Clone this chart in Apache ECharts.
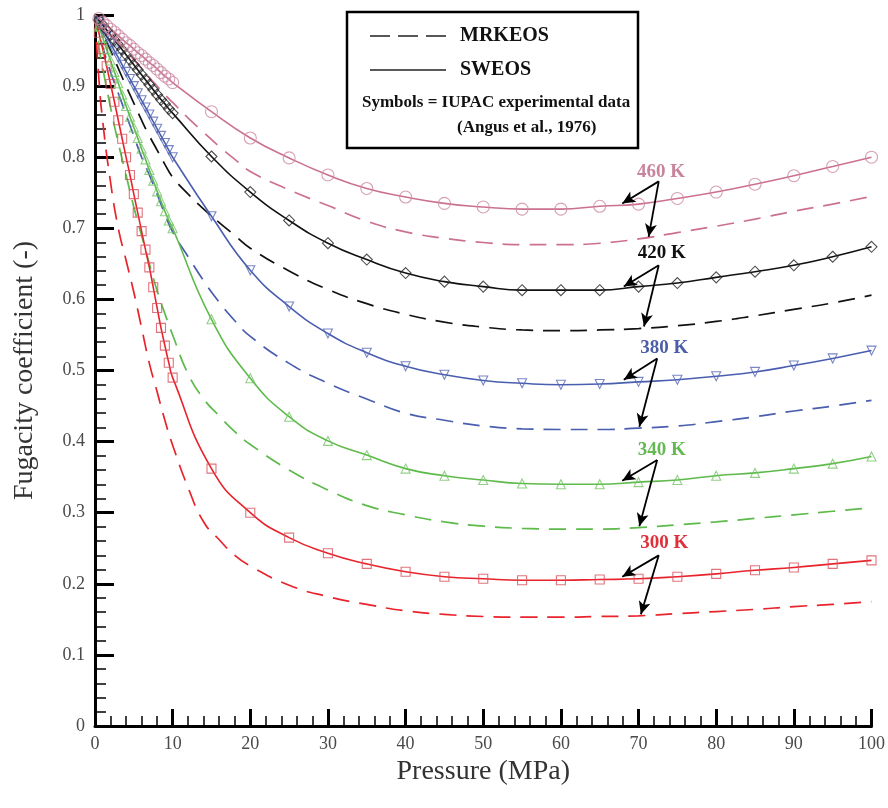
<!DOCTYPE html>
<html><head><meta charset="utf-8">
<script src="https://cdn.jsdelivr.net/npm/echarts/dist/echarts.min.js"></script>
<style>html,body{margin:0;padding:0;background:#fff}#c{width:888px;height:808px}</style>
</head><body><div id="c"></div>
<script>
// ---- data ----
const TEMPS = ['300 K', '340 K', '380 K', '420 K', '460 K'];
// SWEOS curve / IUPAC points (pressure MPa)
const P_SW = [0, 0.5,1,1.5,2,2.5,3,3.5,4,4.5,5,5.5,6,6.5,7,7.5,8,8.5,9,9.5,10, 15,20,25,30,35,40,45,50,55,60,65,70,75,80,85,90,95,100];
const sw300 = [1, 0.975,0.952,0.928,0.903,0.878,0.852,0.826,0.800,0.775,0.748,0.722,0.696,0.670,0.645,0.617,0.588,0.560,0.535,0.511,0.490, 0.362,0.300,0.265,0.243,0.228,0.217,0.210,0.207,0.205,0.205,0.206,0.207,0.210,0.214,0.219,0.223,0.228,0.233];
const sw340 = [1, 0.984,0.968,0.952,0.936,0.920,0.904,0.888,0.872,0.857,0.842,0.827,0.812,0.797,0.782,0.767,0.752,0.738,0.724,0.711,0.700, 0.572,0.489,0.435,0.401,0.381,0.362,0.352,0.346,0.341,0.340,0.340,0.343,0.346,0.352,0.356,0.362,0.369,0.379];
const sw380 = [1, 0.990,0.980,0.970,0.960,0.950,0.940,0.930,0.920,0.910,0.900,0.890,0.880,0.870,0.860,0.850,0.840,0.830,0.820,0.810,0.800, 0.717,0.641,0.590,0.552,0.525,0.506,0.494,0.486,0.482,0.480,0.481,0.484,0.487,0.492,0.498,0.507,0.517,0.528];
const sw420 = [1, 0.993,0.986,0.979,0.972,0.965,0.958,0.951,0.944,0.937,0.930,0.923,0.916,0.909,0.902,0.895,0.888,0.881,0.875,0.868,0.862, 0.801,0.751,0.711,0.679,0.656,0.637,0.625,0.618,0.613,0.613,0.613,0.618,0.623,0.631,0.639,0.648,0.660,0.674];
const sw460 = [1, 0.995,0.990,0.985,0.980,0.976,0.971,0.966,0.961,0.957,0.952,0.947,0.943,0.938,0.933,0.929,0.924,0.919,0.914,0.910,0.905, 0.864,0.827,0.799,0.775,0.756,0.744,0.735,0.730,0.727,0.727,0.731,0.734,0.742,0.751,0.762,0.774,0.787,0.800];
// MRKEOS curves
const P_MRK = [0,0.5,1,2,3,4,5,6,7,8,9,10,12,14,16,18,20,25,30,35,40,45,50,55,60,65,70,75,80,85,90,95,100];
const mrk300 = [1,0.91,0.85,0.765,0.70,0.655,0.61,0.56,0.51,0.47,0.43,0.395,0.335,0.287,0.262,0.240,0.225,0.198,0.182,0.171,0.162,0.157,0.154,0.153,0.153,0.154,0.155,0.158,0.161,0.164,0.168,0.171,0.175];
const mrk340 = [1,0.955,0.925,0.87,0.82,0.775,0.73,0.69,0.65,0.612,0.58,0.55,0.495,0.46,0.436,0.414,0.396,0.36,0.332,0.31,0.297,0.287,0.281,0.278,0.277,0.277,0.279,0.283,0.287,0.292,0.297,0.302,0.307];
const mrk380 = [1,0.975,0.955,0.92,0.89,0.86,0.83,0.80,0.775,0.748,0.72,0.695,0.66,0.626,0.596,0.570,0.548,0.51,0.482,0.46,0.44,0.43,0.422,0.418,0.417,0.417,0.419,0.422,0.428,0.435,0.443,0.45,0.458];
const mrk420 = [1,0.99,0.975,0.95,0.925,0.90,0.876,0.852,0.83,0.81,0.79,0.772,0.748,0.727,0.708,0.69,0.672,0.64,0.614,0.594,0.579,0.568,0.561,0.557,0.556,0.557,0.559,0.563,0.569,0.577,0.586,0.595,0.606];
const mrk460 = [1,0.995,0.988,0.975,0.962,0.95,0.937,0.925,0.912,0.9,0.888,0.877,0.855,0.835,0.815,0.797,0.78,0.754,0.732,0.71,0.695,0.686,0.68,0.677,0.677,0.679,0.685,0.694,0.703,0.713,0.724,0.734,0.745];
// annotation anchor points (label, arrow apex, tip on SWEOS, tip on MRKEOS) in data units
const ANNOT = {
  '460 K': {label:[72.9,0.779], apex:[72.6,0.766], solid:[67.9,0.735], dashed:[71.3,0.688]},
  '420 K': {label:[73.0,0.665], apex:[72.6,0.648], solid:[68.1,0.618], dashed:[70.7,0.562]},
  '380 K': {label:[73.3,0.532], apex:[72.4,0.517], solid:[68.1,0.487], dashed:[70.1,0.421]},
  '340 K': {label:[73.0,0.388], apex:[72.4,0.374], solid:[67.9,0.345], dashed:[70.1,0.281]},
  '300 K': {label:[73.3,0.257], apex:[72.6,0.240], solid:[67.9,0.210], dashed:[70.3,0.157]}
};
const X_TICKS = [0,10,20,30,40,50,60,70,80,90,100];
const Y_TICKS = [0,0.1,0.2,0.3,0.4,0.5,0.6,0.7,0.8,0.9,1];

// ---- styles ----
const SERIF = '"Liberation Serif","DejaVu Serif",Times,serif';
const STY = {
  '300 K': {line:'#e8232b', sym:'#d8505c', text:'#e0303a', symbol:'rect', size:9, rot:0},
  '340 K': {line:'#5dba4b', sym:'#74c466', text:'#66b855', symbol:'triangle', size:9, rot:0},
  '380 K': {line:'#4a5eb0', sym:'#5868b4', text:'#4d5ea8', symbol:'triangle', size:9, rot:180},
  '420 K': {line:'#111111', sym:'#222222', text:'#111111', symbol:'diamond', size:11, rot:0},
  '460 K': {line:'#cc7090', sym:'#cc8aa4', text:'#c8849c', symbol:'circle', size:12, rot:0}
};
const SW = {'300 K':sw300,'340 K':sw340,'380 K':sw380,'420 K':sw420,'460 K':sw460};
const MRK = {'300 K':mrk300,'340 K':mrk340,'380 K':mrk380,'420 K':mrk420,'460 K':mrk460};
const zip = (xs, ys) => xs.map((x,i)=>[x, ys[i]]);

const series = [];
TEMPS.forEach(T => {
  const s = STY[T], a = ANNOT[T];
  series.push({
    name: T + ' MRKEOS', type:'line', data: zip(P_MRK, MRK[T]), showSymbol:false,
    smooth:0.5, z:2,
    lineStyle:{color:s.line, width:1.7, type:[17,10]}
  });
  series.push({
    name: T + ' SWEOS', type:'line', data: zip(P_SW, SW[T]), showSymbol:false,
    smooth:0.5, z:3,
    lineStyle:{color:s.line, width:1.6},
    markLine: {
      silent:true, symbol:['none','arrow'], symbolSize:[9,13], precision:3,
      label:{show:false}, lineStyle:{color:'#000', width:1.8, type:'solid'},
      data:[[{coord:a.apex},{coord:a.solid}],[{coord:a.apex},{coord:a.dashed}]]
    },
    markPoint: {
      silent:true, symbol:'circle', symbolSize:0,
      label:{show:true, position:'inside', formatter:T, color:s.text, fontFamily:SERIF, fontWeight:'bold', fontSize:19},
      data:[{coord:a.label}]
    }
  });
  series.push({
    name: T + ' IUPAC', type:'scatter', data: zip(P_SW.slice(1), SW[T].slice(1)),
    symbol:s.symbol, symbolSize:s.size, symbolRotate:s.rot, z:4,
    itemStyle:{color:'rgba(255,255,255,0)', borderColor:s.sym, borderWidth:1.1}
  });
});

const LB = {x:347, y:12, w:291, h:136};
const option = {
  animation:false,
  backgroundColor:'#fff',
  grid:{left:95, right:15, top:15, bottom:82, containLabel:false},
  xAxis:{
    type:'value', min:X_TICKS[0], max:X_TICKS[X_TICKS.length-1], interval:X_TICKS[1]-X_TICKS[0],
    axisLine:{show:true, onZero:false, lineStyle:{color:'#000', width:3}},
    axisTick:{show:true, inside:true, length:17, lineStyle:{color:'#000', width:3}},
    minorTick:{show:true, splitNumber:5, length:10, lineStyle:{color:'#000', width:1.5}},
    splitLine:{show:false},
    axisLabel:{fontFamily:SERIF, fontSize:18, color:'#4a4a4a', margin:9},
    name:'Pressure (MPa)', nameLocation:'middle', nameGap:26,
    nameTextStyle:{fontFamily:SERIF, fontSize:28, color:'#333'}
  },
  yAxis:{
    type:'value', min:Y_TICKS[0], max:Y_TICKS[Y_TICKS.length-1], interval:Y_TICKS[1]-Y_TICKS[0],
    axisLine:{show:true, onZero:false, lineStyle:{color:'#000', width:3}},
    axisTick:{show:true, inside:true, length:19, lineStyle:{color:'#000', width:3}},
    minorTick:{show:true, splitNumber:5, length:11, lineStyle:{color:'#000', width:1.5}},
    splitLine:{show:false},
    axisLabel:{fontFamily:SERIF, fontSize:18, color:'#4a4a4a', margin:10},
    name:'Fugacity coefficient (-)', nameLocation:'middle', nameGap:56, nameRotate:90,
    nameTextStyle:{fontFamily:SERIF, fontSize:28, color:'#333'}
  },
  graphic:[
    {type:'rect', z:10, shape:{x:LB.x, y:LB.y, width:LB.w, height:LB.h},
     style:{fill:'#fff', stroke:'#000', lineWidth:2.5}},
    {type:'line', z:11, shape:{x1:370, y1:36, x2:446, y2:36},
     style:{stroke:'#222', lineWidth:1.6, lineDash:[20,8]}},
    {type:'text', z:11, x:460, y:36, style:{text:'MRKEOS', font:'bold 20px '+SERIF, fill:'#111', verticalAlign:'middle'}},
    {type:'line', z:11, shape:{x1:370, y1:70, x2:446, y2:70},
     style:{stroke:'#222', lineWidth:1.4}},
    {type:'text', z:11, x:460, y:70, style:{text:'SWEOS', font:'bold 20px '+SERIF, fill:'#111', verticalAlign:'middle'}},
    {type:'text', z:11, x:362, y:103, style:{text:'Symbols = IUPAC experimental data', font:'bold 17px '+SERIF, fill:'#111', verticalAlign:'middle'}},
    {type:'text', z:11, x:457, y:128, style:{text:'(Angus et al., 1976)', font:'bold 17px '+SERIF, fill:'#111', verticalAlign:'middle'}}
  ],
  series
};
const chart = echarts.init(document.getElementById('c'), null, {renderer:'canvas'});
chart.setOption(option);
</script>
</body></html>
